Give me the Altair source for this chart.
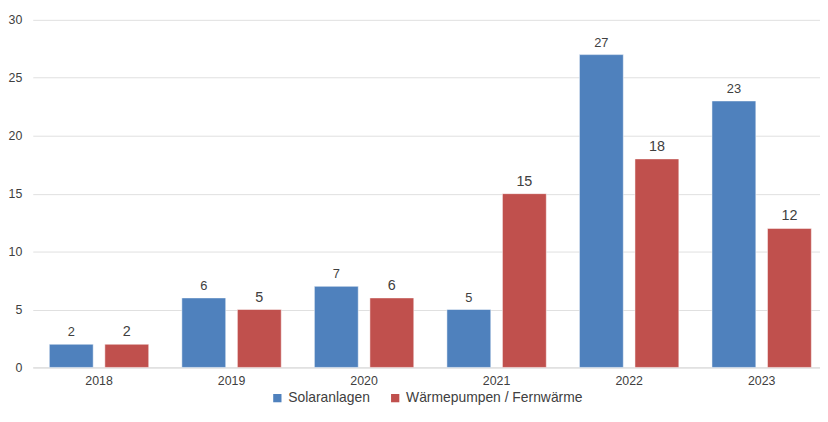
import altair as alt
import pandas as pd

years = ["2018", "2019", "2020", "2021", "2022", "2023"]
series_names = ["Solaranlagen", "Wärmepumpen / Fernwärme"]
solar = [2, 6, 7, 5, 27, 23]
heat = [2, 5, 6, 15, 18, 12]
y_ticks = [0, 5, 10, 15, 20, 25, 30]
colors = ["#4F81BD", "#C0504D"]

rows = []
for i, yr in enumerate(years):
    rows.append({"Jahr": yr, "Serie": series_names[0], "Wert": solar[i]})
    rows.append({"Jahr": yr, "Serie": series_names[1], "Wert": heat[i]})
df = pd.DataFrame(rows)

font = "Liberation Sans"

x = alt.X("Jahr:N", sort=years, title=None,
          scale=alt.Scale(paddingInner=0.25, paddingOuter=0.125),
          axis=alt.Axis(labelAngle=0, labelFontSize=12.5, labelColor="#404040",
                        labelFont=font, ticks=False, domainColor="#d9d9d9",
                        labelPadding=7, grid=False))
xoff = alt.XOffset("Serie:N", sort=series_names,
                   scale=alt.Scale(paddingInner=0.21, paddingOuter=0))
y = alt.Y("Wert:Q", title=None,
          scale=alt.Scale(domain=[0, 30], nice=False),
          axis=alt.Axis(values=y_ticks, labelFontSize=12.5, labelColor="#404040",
                        labelFont=font, ticks=False, domain=False,
                        gridColor="#e0e0e0", labelPadding=11))

bars = alt.Chart(df).mark_bar(stroke="white", strokeWidth=0.5).encode(
    x=x, xOffset=xoff, y=y,
    color=alt.Color("Serie:N", sort=series_names,
                    scale=alt.Scale(domain=series_names, range=colors),
                    legend=alt.Legend(title=None, orient="none", direction="horizontal",
                                      legendX=240, legendY=375,
                                      symbolType="square", symbolSize=70,
                                      symbolStrokeWidth=0, labelLimit=0,
                                      labelFontSize=14, labelColor="#404040",
                                      labelFont=font, columnPadding=18)),
)

base_text = alt.Chart(df).encode(
    x=alt.X("Jahr:N", sort=years),
    xOffset=alt.XOffset("Serie:N", sort=series_names),
    y=alt.Y("Wert:Q"),
    text=alt.Text("Wert:Q"),
)
labels_solar = base_text.transform_filter(
    alt.datum.Serie == series_names[0]
).mark_text(baseline="alphabetic", dy=-8, color="#404040", font=font, fontSize=13)
labels_heat = base_text.transform_filter(
    alt.datum.Serie == series_names[1]
).mark_text(baseline="alphabetic", dy=-8, color="#404040", font=font, fontSize=14.5)

chart = alt.layer(bars, labels_solar, labels_heat).properties(
    width=803, height=351,
    autosize=alt.AutoSizeParams(type="none"),
    padding={"left": 25, "top": 10, "right": -8, "bottom": 39},
).configure_view(stroke=None)

chart.save("out.html", embed_options={"renderer": "svg", "actions": False})
